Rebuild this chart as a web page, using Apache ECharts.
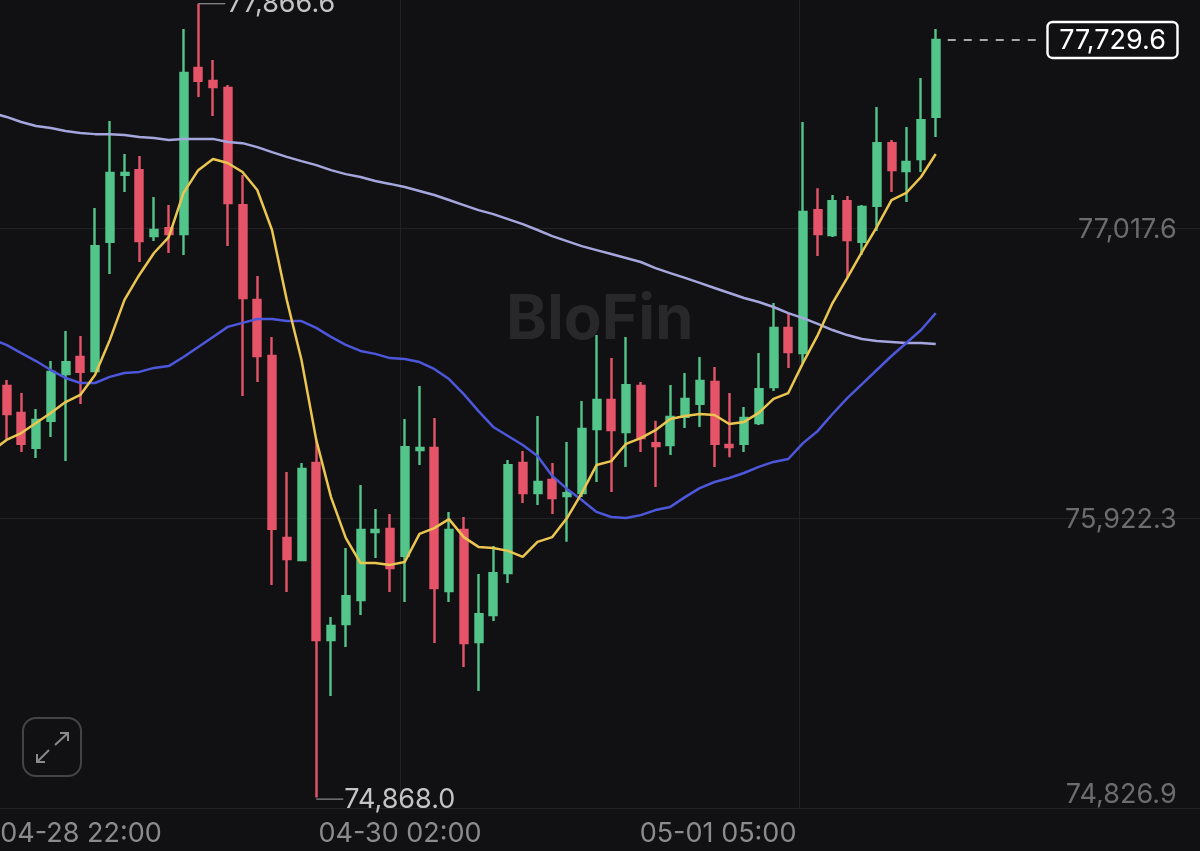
<!DOCTYPE html>
<html><head><meta charset="utf-8">
<style>html,body{margin:0;padding:0;background:#111113}#c{width:1200px;height:851px}</style>
<script src="https://cdn.jsdelivr.net/npm/echarts@6/dist/echarts.min.js"></script>
</head><body><div id="c"></div>
<script>
// [open, close, low, high]
const candles = [
[76423,76317,76219,76445],[76321,76204,76173,76396],[76189,76294,76151,76336],[76291,76476,76230,76517],
[76468,76513,76139,76630],[76532,76476,76355,76612],[76479,76951,76476,77095],[76967,77227,76846,77424],
[77220,77227,77155,77299],[77238,76970,76891,77291],[76989,77012,76970,77137],[77019,76997,76925,77106],
[76997,77605,76917,77771],[77624,77575,77514,77866.6],[77575,77552,77442,77654],[77548,77114,76951,77560],
[77106,76755,76385,77220],[76748,76536,76438,76838],[76536,75883,75671,76608],[75849,75769,75645,76098],
[75765,76109,75762,76132],[76132,75463,74868,76215],[75463,75516,75252,75550],[75524,75629,75437,75811],
[75614,75879,75558,76049],[75871,75879,75773,75958],[75883,75735,75645,75939],[75781,76192,75607,76298],
[76181,76189,76124,76423],[76189,75660,75452,76302],[75648,75879,75607,75947],[75879,75452,75361,75928],
[75456,75561,75271,75713],[75558,75716,75535,75818],[75716,76124,75679,76143],[76132,76018,75981,76177],
[76018,76060,75973,76309],[76068,75999,75939,76132],[76007,76018,75834,76211],[76018,76260,76003,76366],
[76260,76370,76060,76615],[76370,76256,76022,76528],[76249,76426,76117,76608],[76423,76226,76173,76438],
[76207,76196,76041,76291],[76200,76306,76162,76426],[76306,76374,76264,76472],[76355,76442,76268,76532],
[76438,76204,76117,76494],[76200,76192,76154,76396],[76204,76302,76173,76343],[76283,76411,76275,76547],
[76419,76642,76404,76736],[76642,76551,76491,76698],[76547,77080,76510,77420],[77087,76997,76914,77170],
[76993,77121,76985,77144],[77121,76974,76834,77140],[76967,77099,76917,77106],[77103,77340,77008,77476],
[77340,77238,77155,77352],[77235,77269,77118,77401],[77280,77427,77231,77586],[77439,77729.6,77363,77771]
];
const maFast = [76177,
76219,76245,76283,76321,76362,76389,76464,76596,76748,76842,
76925,76985,77152,77238,77280,77265,77231,77163,77012,76748,
76521,76219,76003,75849,75754,75754,75747,75758,75864,75886,
75920,75852,75815,75811,75800,75777,75834,75852,75924,76018,
76124,76139,76204,76226,76256,76298,76309,76317,76313,76279,
76287,76321,76374,76396,76510,76615,76736,76831,76929,77023,
77125,77152,77212,77299];
const maMid = [76600,
76578,76547,76517,76483,76453,76434,76434,76457,76472,76476,
76491,76498,76532,76570,76608,76646,76661,76676,76676,76668,
76668,76642,76608,76578,76555,76544,76528,76525,76513,76487,
76449,76392,76328,76268,76234,76200,76158,76083,76034,75992,
75947,75928,75924,75935,75954,75966,76003,76037,76060,76075,
76094,76117,76136,76147,76207,76253,76317,76377,76430,76483,
76536,76585,76634,76698];
const maSlow = [77454,
77439,77420,77405,77397,77386,77378,77374,77374,77371,77363,
77359,77352,77356,77356,77356,77344,77340,77325,77306,77288,
77272,77257,77238,77223,77212,77197,77186,77174,77159,77144,
77125,77106,77087,77072,77053,77034,77012,76989,76970,76951,
76936,76921,76906,76891,76868,76849,76831,76812,76793,76774,
76755,76740,76721,76698,76679,76657,76634,76615,76600,76593,
76589,76585,76585,76581];
const yTicks = [74826.9, 75922.3, 77017.6];
const xTickPositions = [6.05, 27.68, 49.24];
const xTickLabels = ['04-28 22:00', '04-30 02:00', '05-01 05:00'];
const xGridPositions = [27.68, 54.76];
const highPoint = [14, 77866.6];
const lowPoint = [22, 74868.0];
const lastPoint = [64, 77729.6];

const FONT = 'Inter, "Liberation Sans", sans-serif';
const fmt = v => v.toLocaleString('en-US', {minimumFractionDigits: 1, maximumFractionDigits: 1});
const BG = '#111113', UP = '#53C58B', DOWN = '#E6546A';
const categories = Array.from({length: 83}, (_, i) => String(i));
const candleData = [['-','-','-','-']].concat(candles);

const chart = echarts.init(document.getElementById('c'), null, {renderer: 'canvas'});
chart.setOption({
  animation: false,
  backgroundColor: BG,
  grid: {left: -15.625, right: -8.625, top: 0, bottom: 42.5, containLabel: false, outerBoundsMode: 'none'},
  graphic: [
    {type: 'text', z: 0, zlevel: 0, silent: true, left: 506, top: 289,
     style: {text: 'BloFin', font: '700 62px ' + FONT, fill: '#28282b'}},
    {type: 'rect', z: 50, silent: true, shape: {x: 23, y: 718, width: 58, height: 58, r: 13},
     style: {fill: 'transparent', stroke: '#444446', lineWidth: 2}},
    {type: 'polyline', z: 50, silent: true, shape: {points: [[55,745],[68,733]]}, style: {stroke: '#8a8a8c', lineWidth: 2, fill: 'none'}},
    {type: 'polyline', z: 50, silent: true, shape: {points: [[60,733],[68,733],[68,741]]}, style: {stroke: '#8a8a8c', lineWidth: 2, fill: 'none'}},
    {type: 'polyline', z: 50, silent: true, shape: {points: [[49,750],[37,762]]}, style: {stroke: '#8a8a8c', lineWidth: 2, fill: 'none'}},
    {type: 'polyline', z: 50, silent: true, shape: {points: [[37,754],[37,762],[45,762]]}, style: {stroke: '#8a8a8c', lineWidth: 2, fill: 'none'}}
  ],
  xAxis: [
    {type: 'category', data: categories, show: false, boundaryGap: true},
    {type: 'value', position: 'bottom', min: -0.5, max: 82.5,
     axisLine: {show: false},
     axisTick: {show: false, customValues: xGridPositions},
     splitLine: {show: true, lineStyle: {color: '#222225', width: 1}},
     axisLabel: {show: true, customValues: xTickPositions, margin: 12, color: '#8b8b8d',
       fontFamily: 'Inter', fontSize: 27,
       formatter: v => xTickLabels[xTickPositions.indexOf(v)] || ''}}
  ],
  yAxis: {
    type: 'value', position: 'right', min: 74826.9, max: 77880.6, scale: true,
    axisLine: {show: false},
    axisTick: {show: false, customValues: yTicks},
    splitLine: {show: true, lineStyle: {color: '#222225', width: 1}},
    axisLabel: {inside: true, margin: 32, customValues: yTicks, color: '#6c6c6e',
      fontFamily: 'Inter', fontSize: 27,
      rich: {low: {fontFamily: 'Inter', fontSize: 27, color: '#6c6c6e', padding: [0, 0, 27, 0]},
             mid: {fontFamily: 'Inter', fontSize: 27, color: '#6c6c6e', padding: [2, 0, 0, 0]}},
      formatter: v => v === yTicks[0] ? '{low|' + fmt(v) + '}' : '{mid|' + fmt(v) + '}'}
  },
  series: [
    {type: 'candlestick', data: candleData, barWidth: 7.5, z: 3,
     itemStyle: {color: UP, color0: DOWN, borderColor: UP, borderColor0: DOWN, borderWidth: 2.4}},
    {type: 'line', data: maSlow, symbol: 'none', z: 4, lineStyle: {color: '#A6A6DE', width: 2.5}},
    {type: 'line', data: maMid, symbol: 'none', z: 4, lineStyle: {color: '#4D57DB', width: 2.5}},
    {type: 'line', data: maFast, symbol: 'none', z: 5, lineStyle: {color: '#EAC54F', width: 2.5}},
    {type: 'custom', z: 6, clip: false, silent: true,
     data: [[highPoint[0], highPoint[1], 0], [lowPoint[0], lowPoint[1], 1], [lastPoint[0], lastPoint[1], 2]],
     encode: {x: 0, y: 1},
     renderItem(params, api) {
       const p = api.coord([api.value(0), api.value(1)]);
       const kind = api.value(2);
       const txt = fmt(api.value(1));
       if (kind < 2) {
         const dy = kind === 1 ? 1.5 : 0;
         return {type: 'group', children: [
           {type: 'line', shape: {x1: p[0], y1: p[1] + dy, x2: p[0] + 27, y2: p[1] + dy}, style: {stroke: '#8f8f91', lineWidth: 1.2}},
           {type: 'text', style: {x: p[0] + (kind === 1 ? 28 : 29), y: p[1] + dy + (kind === 1 ? 1 : 0), text: txt, font: '27px Inter', fill: '#c4c4c6', verticalAlign: 'middle', textAlign: 'left'}}
         ]};
       }
       return {type: 'group', children: [
         {type: 'line', shape: {x1: p[0] + 12, y1: p[1], x2: 1040, y2: p[1]}, style: {stroke: '#a8a8aa', lineWidth: 2.2, lineDash: [8, 8]}},
         {type: 'rect', shape: {x: 1047.5, y: p[1] - 18, width: 130, height: 36, r: 5}, style: {fill: BG, stroke: '#ffffff', lineWidth: 2.4}},
         {type: 'text', style: {x: 1112.5, y: p[1] + 1, text: txt, font: '27px Inter', fill: '#ffffff', verticalAlign: 'middle', textAlign: 'center'}}
       ]};
     }}
  ]
});
</script></body></html>
